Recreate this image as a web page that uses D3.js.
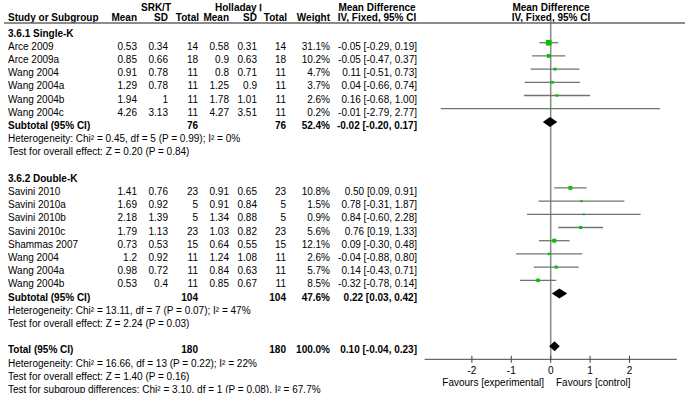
<!DOCTYPE html>
<html><head><meta charset="utf-8">
<script src="https://cdn.jsdelivr.net/npm/d3@7"></script>
<style>
body{margin:0;background:#fff}
text{font-family:"Liberation Sans",Arial,sans-serif;font-size:10px;fill:#000}
.b{font-weight:bold}
</style>
</head><body><svg id="c" width="685" height="393"></svg>
<script>
// ---- data ----
const groupNames = ["3.6.1 Single-K", "3.6.2 Double-K"];
const studyNames = ["Arce 2009","Arce 2009a","Wang 2004","Wang 2004a","Wang 2004b","Wang 2004c",
  "Savini 2010","Savini 2010a","Savini 2010b","Savini 2010c","Shammas 2007","Wang 2004","Wang 2004a","Wang 2004b"];
const studyGroup = [0,0,0,0,0,0,1,1,1,1,1,1,1,1];
const srkMean  = [0.53,0.85,0.91,1.29,1.94,4.26, 1.41,1.69,2.18,1.79,0.73,1.2,0.98,0.53];
const srkSD    = [0.34,0.66,0.78,0.78,1,3.13, 0.76,0.92,1.39,1.13,0.53,0.92,0.72,0.4];
const srkTotal = [14,18,11,11,11,11, 23,5,5,23,15,11,11,11];
const holMean  = [0.58,0.9,0.8,1.25,1.78,4.27, 0.91,0.91,1.34,1.03,0.64,1.24,0.84,0.85];
const holSD    = [0.31,0.63,0.71,0.9,1.01,3.51, 0.65,0.84,0.88,0.82,0.55,1.08,0.63,0.67];
const holTotal = [14,18,11,11,11,11, 23,5,5,23,15,11,11,11];
const weight   = [31.1,10.2,4.7,3.7,2.6,0.2, 10.8,1.5,0.9,5.6,12.1,2.6,5.7,8.5];
const md       = [-0.05,-0.05,0.11,0.04,0.16,-0.01, 0.50,0.78,0.84,0.76,0.09,-0.04,0.14,-0.32];
const ciLow    = [-0.29,-0.47,-0.51,-0.66,-0.68,-2.79, 0.09,-0.31,-0.60,0.19,-0.30,-0.88,-0.43,-0.78];
const ciHigh   = [0.19,0.37,0.73,0.74,1.00,2.77, 0.91,1.87,2.28,1.33,0.48,0.80,0.71,0.14];

const subSrkTotal = [76,104];
const subHolTotal = [76,104];
const subWeight   = [52.4,47.6];
const subMd       = [-0.02,0.22];
const subLow      = [-0.20,0.03];
const subHigh     = [0.17,0.42];
const subHet  = ["Heterogeneity: Chi² = 0.45, df = 5 (P = 0.99); I² = 0%",
                 "Heterogeneity: Chi² = 13.11, df = 7 (P = 0.07); I² = 47%"];
const subTest = ["Test for overall effect: Z = 0.20 (P = 0.84)",
                 "Test for overall effect: Z = 2.24 (P = 0.03)"];

const totalSrk = 180, totalHol = 180, totalWeight = 100.0;
const totalMd = 0.10, totalLow = -0.04, totalHigh = 0.23;
const totalNotes = ["Heterogeneity: Chi² = 16.66, df = 13 (P = 0.22); I² = 22%",
  "Test for overall effect: Z = 1.40 (P = 0.16)",
  "Test for subgroup differences: Chi² = 3.10, df = 1 (P = 0.08), I² = 67.7%"];

const axisTicks = [-2,-1,0,1,2];
const favLeft = "Favours [experimental]", favRight = "Favours [control]";

// ---- build rows ----
const rows = [];
groupNames.forEach((g, gi) => {
  rows.push({type:"head", label:g});
  studyNames.forEach((s, i) => { if (studyGroup[i] === gi) rows.push({type:"study", i}); });
  rows.push({type:"sub", gi});
  rows.push({type:"note", label:subHet[gi]});
  rows.push({type:"note", label:subTest[gi]});
  rows.push({type:"blank"});
});
rows.push({type:"total"});
totalNotes.forEach(t => rows.push({type:"note", label:t}));

const svg = d3.select("#c");
const yRow = d3.scaleLinear().domain([0, 1]).range([33, 46.2]);
const x = d3.scaleLinear().domain([-3.2, 3.2]).range([424.6, 676.8]);
const sq = d3.scaleSqrt().domain([0, 31.1]).range([0, 4.45]);

const fmt2 = d => d.toFixed(2);
const ciText = (m,l,h) => `${fmt2(m)} [${fmt2(l)}, ${fmt2(h)}]`;

const col = {name:8, srkMean:137, srkSD:168, srkTotal:198, holMean:229, holSD:257, holTotal:286, weight:330, md:417};

function txt(xp, yp, s, anchor, bold) {
  svg.append("text").attr("x", xp).attr("y", yp)
    .attr("text-anchor", anchor || "start")
    .attr("class", bold ? "b" : null).text(s);
}

// headers
txt(156, 10.5, "SRK/T", "middle", true);
txt(215, 10.5, "Holladay Ⅰ", "start", true);
txt(377, 10.5, "Mean Difference", "middle", true);
txt(551, 10.5, "Mean Difference", "middle", true);
txt(col.name, 20.5, "Study or Subgroup", "start", true);
txt(col.srkMean, 20.5, "Mean", "end", true);
txt(col.srkSD, 20.5, "SD", "end", true);
txt(col.srkTotal + 1, 20.5, "Total", "end", true);
txt(col.holMean, 20.5, "Mean", "end", true);
txt(col.holSD, 20.5, "SD", "end", true);
txt(col.holTotal + 1, 20.5, "Total", "end", true);
txt(col.weight, 20.5, "Weight", "end", true);
txt(377, 20.5, "IV, Fixed, 95% CI", "middle", true);
txt(551, 20.5, "IV, Fixed, 95% CI", "middle", true);

// zero line
const axisY = 359.3;
svg.append("line").attr("x1", x(0)).attr("x2", x(0)).attr("y1", 20).attr("y2", axisY)
  .attr("stroke", "#8a8a8a").attr("stroke-width", 1.5);
// header rule
svg.append("line").attr("x1", 4).attr("x2", 685).attr("y1", 23).attr("y2", 23)
  .attr("stroke", "#666").attr("stroke-width", 1.5);

const dy = 3.5; // text baseline offset
const my = -3.5; // marker center offset from text center

function diamond(yc, m, l, h) {
  const hh = 5;
  svg.append("path")
    .attr("d", `M${x(l)},${yc} L${x(m)},${yc-hh} L${x(h)},${yc} L${x(m)},${yc+hh} Z`)
    .attr("fill", "#000");
}

rows.forEach((r, ri) => {
  const yc = yRow(ri);
  const yb = yc + dy;
  if (r.type === "head") txt(col.name, yb, r.label, "start", true);
  else if (r.type === "note") txt(col.name, yb, r.label, "start", false);
  else if (r.type === "study") {
    const i = r.i;
    txt(col.name, yb, studyNames[i]);
    txt(col.srkMean, yb, String(srkMean[i]), "end");
    txt(col.srkSD, yb, String(srkSD[i]), "end");
    txt(col.srkTotal, yb, String(srkTotal[i]), "end");
    txt(col.holMean, yb, String(holMean[i]), "end");
    txt(col.holSD, yb, String(holSD[i]), "end");
    txt(col.holTotal, yb, String(holTotal[i]), "end");
    txt(col.weight, yb, weight[i].toFixed(1) + "%", "end");
    txt(col.md, yb, ciText(md[i], ciLow[i], ciHigh[i]), "end");
    const ym = yc + my;
    svg.append("line").attr("x1", x(ciLow[i])).attr("x2", x(ciHigh[i]))
      .attr("y1", ym).attr("y2", ym).attr("stroke", "#727272").attr("stroke-width", 1.3);
    const s = 1.2 + sq(weight[i]);
    svg.append("rect").attr("x", x(md[i]) - s/2).attr("y", ym - s/2)
      .attr("width", s).attr("height", s).attr("fill", "#00c400");
  } else if (r.type === "sub") {
    const g = r.gi;
    txt(col.name, yb, "Subtotal (95% CI)", "start", true);
    txt(col.srkTotal, yb, String(subSrkTotal[g]), "end", true);
    txt(col.holTotal, yb, String(subHolTotal[g]), "end", true);
    txt(col.weight, yb, subWeight[g].toFixed(1) + "%", "end", true);
    txt(col.md, yb, ciText(subMd[g], subLow[g], subHigh[g]), "end", true);
    diamond(yc + my, subMd[g], subLow[g], subHigh[g]);
  } else if (r.type === "total") {
    txt(col.name, yb, "Total (95% CI)", "start", true);
    txt(col.srkTotal, yb, String(totalSrk), "end", true);
    txt(col.holTotal, yb, String(totalHol), "end", true);
    txt(col.weight, yb, totalWeight.toFixed(1) + "%", "end", true);
    txt(col.md, yb, ciText(totalMd, totalLow, totalHigh), "end", true);
    diamond(yc + my, totalMd, totalLow, totalHigh);
  }
});

// axis
const ax = svg.append("g");
ax.append("line").attr("x1", x.range()[0]).attr("x2", x.range()[1])
  .attr("y1", axisY).attr("y2", axisY).attr("stroke", "#444").attr("stroke-width", 1);
ax.selectAll("line.t").data(axisTicks).join("line").attr("class", "t")
  .attr("x1", d => x(d)).attr("x2", d => x(d))
  .attr("y1", axisY - 3.5).attr("y2", axisY + 3.5).attr("stroke", "#444").attr("stroke-width", 1);
ax.selectAll("text.t").data(axisTicks).join("text").attr("class", "t")
  .attr("x", d => x(d)).attr("y", 373.5).attr("text-anchor", "middle").text(d => d);
txt(544, 385.5, favLeft, "end");
txt(556, 385.5, favRight, "start");
</script>
</body></html>
